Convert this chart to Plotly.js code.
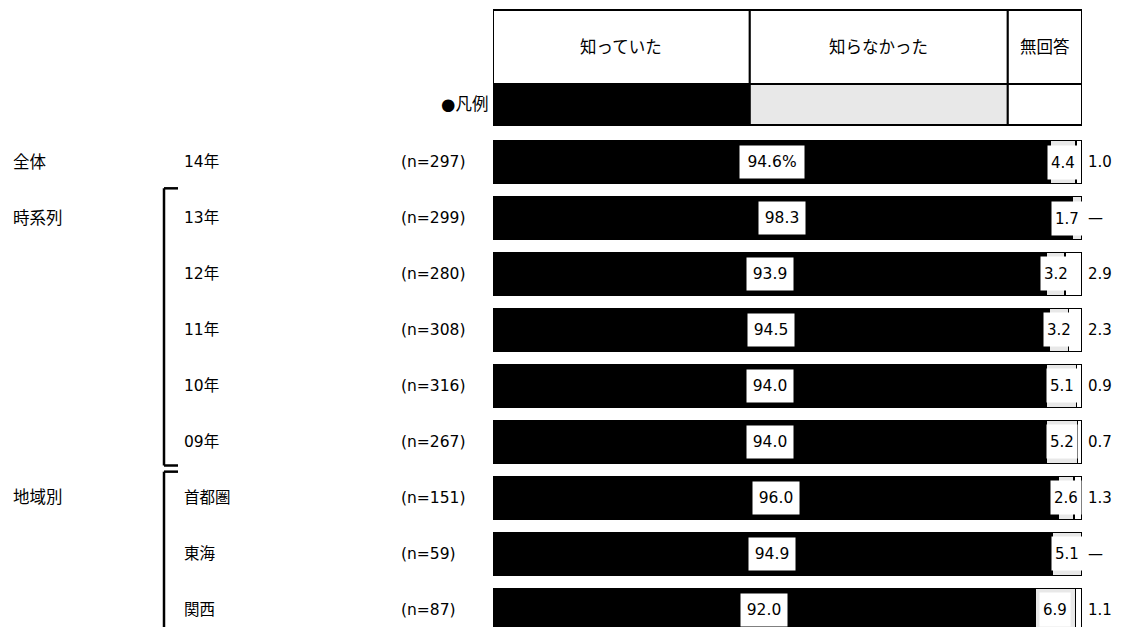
<!DOCTYPE html>
<html><head><meta charset="utf-8">
<script src="https://cdn.plot.ly/plotly-3.0.1.min.js"></script>
<style>html,body{margin:0;padding:0;background:#fff}#c{width:1122px;height:627px}</style>
</head><body><div id="c"></div>
<script>
const groups = ['全体','時系列','','','','','地域別','',''];
const rowLabels = ['14年','13年','12年','11年','10年','09年','首都圏','東海','関西'];
const nLabels = ['(n=297)','(n=299)','(n=280)','(n=308)','(n=316)','(n=267)','(n=151)','(n=59)','(n=87)'];
const knew = [94.6, 98.3, 93.9, 94.5, 94.0, 94.0, 96.0, 94.9, 92.0];
const didNotKnow = [4.4, 1.7, 3.2, 3.2, 5.1, 5.2, 2.6, 5.1, 6.9];
const noAnswer = [1.0, 0, 2.9, 2.3, 0.9, 0.7, 1.3, 0, 1.1];
const seriesNames = ['知っていた','知らなかった','無回答'];

const FONT = '"DejaVu Sans", "Noto Sans CJK JP", sans-serif';
const idx = rowLabels.map((_, i) => i);
const fmt = v => v === 0 ? '—' : v.toFixed(1);

const traces = [
  {type:'bar', orientation:'h', y: idx, x: knew, name: seriesNames[0], width:0.76,
   marker:{color:'#000000', line:{color:'#000', width:1}}, hoverinfo:'x'},
  {type:'bar', orientation:'h', y: idx, x: didNotKnow, name: seriesNames[1], width:0.76,
   marker:{color:'#e8e8e8', line:{color:'#000', width:1.5}}, hoverinfo:'x'},
  {type:'bar', orientation:'h', y: idx, x: noAnswer, name: seriesNames[2], width:0.76,
   marker:{color:'#ffffff', line:{color:'#000', width:1.5}}, hoverinfo:'x'}
];

const ann = [];
const shapes = [];
const px2paper = p => (p - 493) / 589;
const fL = {family: FONT, size: 15.5, color: '#000'};
const fH = {family: FONT, size: 16.5, color: '#000'};

idx.forEach(i => {
  if (groups[i]) ann.push({xref:'paper', yref:'y', x: px2paper(11), y: i, text: groups[i], showarrow:false, xanchor:'left', font:fH});
  ann.push({xref:'paper', yref:'y', x: px2paper(182), y: i, text: rowLabels[i], showarrow:false, xanchor:'left', font:fL});
  ann.push({xref:'paper', yref:'y', x: px2paper(399), y: i, text: nLabels[i], showarrow:false, xanchor:'left', font:fL});
  const t1 = knew[i].toFixed(1) + (i === 0 ? '%' : '');
  ann.push({xref:'x', yref:'y', x: knew[i]/2, y: i, text: t1, showarrow:false, xanchor:'center',
    bgcolor:'#fff', width: i === 0 ? 62 : 44, height: 30, font:{family: FONT, size: 15.5, color:'#000'}});
  const mid2 = Math.min(knew[i] + didNotKnow[i]/2, 97.4);
  ann.push({xref:'x', yref:'y', x: mid2, y: i, text: fmt(didNotKnow[i]), showarrow:false, xanchor:'center',
    bgcolor:'#fff', width: 28, height: 31, font:{family: FONT, size: 15, color:'#000'}});
  ann.push({xref:'x', yref:'y', x: 100, y: i, text: fmt(noAnswer[i]), showarrow:false, xanchor:'left', xshift: 4,
    font:{family: FONT, size: 15, color:'#000'}});
});

const colX = [0, 43.6, 87.4, 100];
const yTop = 1 - 10/627, yMid = 1 - 84/627, yBot = 1 - 125/627;
const legendFill = ['#000000', '#e8e8e8', '#ffffff'];
for (let k = 0; k < 3; k++) {
  shapes.push({type:'rect', xref:'x', yref:'paper', x0: colX[k], x1: colX[k+1], y0: yMid, y1: yTop,
    fillcolor:'#fff', line:{color:'#000', width:2}});
  shapes.push({type:'rect', xref:'x', yref:'paper', x0: colX[k], x1: colX[k+1], y0: yBot, y1: yMid,
    fillcolor: legendFill[k], line:{color:'#000', width:2}});
  ann.push({xref:'x', yref:'paper', x: (colX[k] + colX[k+1])/2, y: (yTop + yMid)/2, text: seriesNames[k],
    showarrow:false, xanchor:'center', yanchor:'middle', font:fH});
}
ann.push({xref:'paper', yref:'paper', x: px2paper(490), y: (yMid + yBot)/2, text:'●凡例', showarrow:false,
  xanchor:'right', yanchor:'middle', font:fH});

const bx = px2paper(164), bt = px2paper(178);
[[0.47, 5.42], [5.53, 9.2]].forEach(([a, b]) => {
  shapes.push({type:'line', xref:'paper', yref:'y', x0: bx, x1: bx, y0: a, y1: b, line:{color:'#000', width:2.5}});
  shapes.push({type:'line', xref:'paper', yref:'y', x0: bx, x1: bt, y0: a, y1: a, line:{color:'#000', width:2.5}});
  if (b < 9) shapes.push({type:'line', xref:'paper', yref:'y', x0: bx, x1: bt, y0: b, y1: b, line:{color:'#000', width:2.5}});
});

const layout = {
  width:1122, height:627,
  margin:{l:493, r:40, t:0, b:0, pad:0},
  paper_bgcolor:'#fff', plot_bgcolor:'#fff',
  barmode:'stack', showlegend:false,
  xaxis:{range:[0,100], showgrid:false, zeroline:false, showticklabels:false, showline:false, fixedrange:true},
  yaxis:{range:[8.304, -2.893], showgrid:false, zeroline:false, showticklabels:false, showline:false, fixedrange:true},
  annotations: ann, shapes: shapes,
  font:{family: FONT}
};
Plotly.newPlot('c', traces, layout, {displayModeBar:false, staticPlot:true});
</script></body></html>
